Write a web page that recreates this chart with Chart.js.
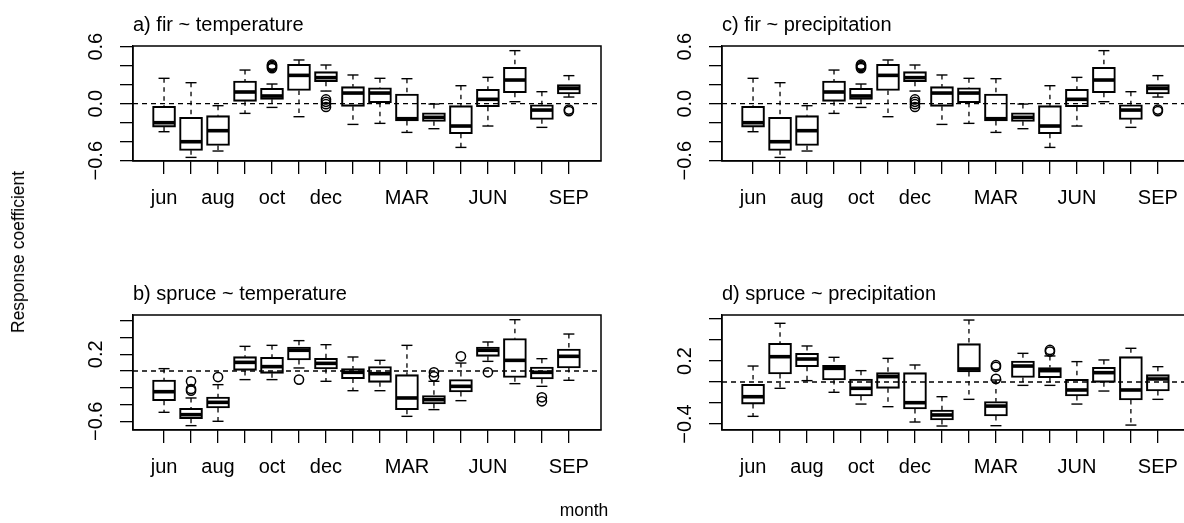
<!DOCTYPE html>
<html>
<head>
<meta charset="utf-8">
<script src="https://cdn.jsdelivr.net/npm/chart.js@4/dist/chart.umd.min.js"></script>
<style>
html,body{margin:0;padding:0;background:#fff;}
body{width:1184px;height:523px;overflow:hidden;position:relative;font-family:"Liberation Sans",Arial,Helvetica,sans-serif;color:#000;}
.panel{position:absolute;width:630px;height:240px;}
.panel canvas{position:absolute;left:0;top:0;}
.title{position:absolute;font-size:20px;line-height:24px;white-space:nowrap;}
.outer{position:absolute;font-size:17.5px;line-height:20px;white-space:nowrap;transform:translate(-50%,-50%);}
</style>
</head>
<body>
<div class="panel" style="left:0;top:0"><canvas id="pa" width="630" height="240"></canvas></div>
<div class="panel" style="left:0;top:269px"><canvas id="pb" width="630" height="240"></canvas></div>
<div class="panel" style="left:589px;top:0"><canvas id="pc" width="630" height="240"></canvas></div>
<div class="panel" style="left:589px;top:269px"><canvas id="pd" width="630" height="240"></canvas></div>
<div class="title" style="left:133px;top:12px">a) fir ~ temperature</div>
<div class="title" style="left:133px;top:281px">b) spruce ~ temperature</div>
<div class="title" style="left:722px;top:12px">c) fir ~ precipitation</div>
<div class="title" style="left:722px;top:281px">d) spruce ~ precipitation</div>
<div class="outer" style="left:18px;top:252px;transform:translate(-50%,-50%) rotate(-90deg)">Response coefficient</div>
<div class="outer" style="left:584px;top:510px">month</div>
<script>
// ---- categories ----
const months = ['jun','jul','aug','sep','oct','nov','dec','JAN','FEB','MAR','APR','MAY','JUN','JUL','AUG','SEP'];
const labelledMonths = ['jun','aug','oct','dec','MAR','JUN','SEP'];

// ---- a) fir ~ temperature ----
const firTempLo  = [-0.295,-0.565,-0.498,-0.102,-0.039,-0.137, 0.133,-0.218,-0.207,-0.302,-0.263,-0.460,-0.235, 0.021,-0.249, 0.070];
const firTempQ1  = [-0.246,-0.491,-0.439, 0.025, 0.046, 0.140, 0.232,-0.028, 0.011,-0.182,-0.186,-0.316,-0.032, 0.116,-0.165, 0.102];
const firTempMed = [-0.200,-0.400,-0.284, 0.123, 0.081, 0.298, 0.274, 0.112, 0.112,-0.158,-0.144,-0.235, 0.046, 0.249,-0.067, 0.161];
const firTempQ3  = [-0.028,-0.144,-0.126, 0.239, 0.161, 0.414, 0.337, 0.179, 0.168, 0.102,-0.095,-0.021, 0.151, 0.382,-0.011, 0.200];
const firTempHi  = [ 0.267, 0.221,-0.021, 0.354, 0.207, 0.460, 0.407, 0.302, 0.267, 0.263,-0.004, 0.189, 0.277, 0.558, 0.126, 0.295];
const firTempOutMonth = [5,5,5,5,7,7,7,7,16,16];
const firTempOutValue = [0.410,0.398,0.386,0.374,0.045,0.020,-0.005,-0.035,-0.062,-0.078];

// ---- c) fir ~ precipitation (same values as shown in the figure) ----
const firPrecLo  = [-0.295,-0.565,-0.498,-0.102,-0.039,-0.137, 0.133,-0.218,-0.207,-0.302,-0.263,-0.460,-0.235, 0.021,-0.249, 0.070];
const firPrecQ1  = [-0.246,-0.491,-0.439, 0.025, 0.046, 0.140, 0.232,-0.028, 0.011,-0.182,-0.186,-0.316,-0.032, 0.116,-0.165, 0.102];
const firPrecMed = [-0.200,-0.400,-0.284, 0.123, 0.081, 0.298, 0.274, 0.112, 0.112,-0.158,-0.144,-0.235, 0.046, 0.249,-0.067, 0.161];
const firPrecQ3  = [-0.028,-0.144,-0.126, 0.239, 0.161, 0.414, 0.337, 0.179, 0.168, 0.102,-0.095,-0.021, 0.151, 0.382,-0.011, 0.200];
const firPrecHi  = [ 0.267, 0.221,-0.021, 0.354, 0.207, 0.460, 0.407, 0.302, 0.267, 0.263,-0.004, 0.189, 0.277, 0.558, 0.126, 0.295];
const firPrecOutMonth = [5,5,5,5,7,7,7,7,16,16];
const firPrecOutValue = [0.410,0.398,0.386,0.374,0.045,0.020,-0.005,-0.035,-0.062,-0.078];

// ---- b) spruce ~ temperature ----
const spruceTempLo  = [-0.493,-0.652,-0.600,-0.103,-0.103, 0.036,-0.123,-0.235,-0.235,-0.541,-0.461,-0.354, 0.115,-0.151,-0.183,-0.111];
const spruceTempQ1  = [-0.354,-0.569,-0.441, 0.000,-0.028, 0.131, 0.024,-0.091,-0.135,-0.461,-0.394,-0.250, 0.175,-0.076,-0.095, 0.036];
const spruceTempMed = [-0.247,-0.521,-0.374, 0.103, 0.052, 0.247, 0.091,-0.016,-0.032,-0.322,-0.342,-0.183, 0.247, 0.127,-0.016, 0.175];
const spruceTempQ3  = [-0.107,-0.445,-0.310, 0.171, 0.163, 0.286, 0.151, 0.028, 0.052,-0.044,-0.294,-0.103, 0.286, 0.386, 0.048, 0.262];
const spruceTempHi  = [ 0.028,-0.322,-0.163, 0.294, 0.306, 0.362, 0.314, 0.167, 0.127, 0.306,-0.123, 0.095, 0.346, 0.612, 0.147, 0.441];
const spruceTempOutMonth = [2,2,2,3,6,11,11,12,13,15,15];
const spruceTempOutValue = [-0.123,-0.215,-0.235,-0.072,-0.103,-0.016,-0.064,0.175,-0.016,-0.314,-0.362];

// ---- d) spruce ~ precipitation ----
const sprucePrecLo  = [-0.327,-0.060, 0.013,-0.098,-0.210,-0.235,-0.381,-0.419,-0.165,-0.416,-0.032,-0.032,-0.210,-0.086,-0.410,-0.165];
const sprucePrecQ1  = [-0.210, 0.076, 0.146, 0.019,-0.133,-0.060,-0.257,-0.362, 0.095,-0.324, 0.044, 0.041,-0.133,-0.003,-0.171,-0.086];
const sprucePrecMed = [-0.140, 0.241, 0.219, 0.130,-0.060, 0.051,-0.197,-0.314, 0.124,-0.229, 0.152, 0.108,-0.076, 0.089,-0.076, 0.029];
const sprucePrecQ3  = [-0.022, 0.368, 0.273, 0.159, 0.029, 0.089, 0.089,-0.267, 0.365,-0.187, 0.200, 0.137, 0.025, 0.140, 0.241, 0.070];
const sprucePrecHi  = [ 0.152, 0.559, 0.343, 0.235, 0.108, 0.225, 0.162,-0.140, 0.590, 0.019, 0.273, 0.248, 0.194, 0.210, 0.321, 0.146];
const sprucePrecOutMonth = [10,10,10,12,12];
const sprucePrecOutValue = [0.160,0.145,0.030,0.305,0.290];

// ---- y tick values / labels ----
const firTicks = [-0.6,-0.4,-0.2,0,0.2,0.4,0.6];
const firTickLabels = ['0.6','0.0','-0.6'];
const spruceTempTicks = [-0.6,-0.4,-0.2,0,0.2,0.4,0.6];
const spruceTempTickLabels = ['0.2','-0.6'];
const sprucePrecTicks = [-0.4,-0.2,0,0.2,0.4,0.6];
const sprucePrecTickLabels = ['0.2','-0.4'];

const FONT = '"Liberation Sans", Arial, Helvetica, sans-serif';
Chart.defaults.font.family = FONT;
Chart.defaults.color = '#000';

const framePlugin = {
  id: 'frame',
  afterDatasetsDraw(chart) {
    const {ctx, chartArea: a} = chart;
    ctx.save();
    ctx.strokeStyle = '#000';
    ctx.lineWidth = 1.5;
    ctx.strokeRect(a.left, a.top, a.right - a.left, a.bottom - a.top);
    ctx.restore();
  }
};

function makePanel(id, lo, q1, med, q3, hi, outM, outV, yMin, yMax, yTicks, yLabels) {
  const boxes = months.map((m, i) => ({x: i + 1, y: [q1[i], q3[i]]}));
  const medians = months.map((m, i) => ({x: i + 1, y: med[i]}));
  const caps = [];
  const whiskers = [];
  months.forEach((m, i) => {
    caps.push({x: i + 1, y: lo[i]}, {x: i + 1, y: hi[i]});
    whiskers.push({x: i + 1, y: hi[i]}, {x: i + 1, y: q3[i]}, {x: i + 1, y: null},
                  {x: i + 1, y: q1[i]}, {x: i + 1, y: lo[i]}, {x: i + 1, y: null});
  });
  const outliers = outM.map((m, k) => ({x: m, y: outV[k]}));
  const xMin = -0.15, xMax = 17.19;

  new Chart(document.getElementById(id), {
    type: 'bar',
    data: {
      datasets: [
        {type: 'scatter', data: whiskers, showLine: true, spanGaps: false, borderColor: '#000',
         borderWidth: 1.3, borderDash: [4.5, 4.5], pointRadius: 0, pointHoverRadius: 0, order: 6},
        {type: 'scatter', data: caps, pointStyle: 'line', pointRadius: 5.5, pointHoverRadius: 5.5,
         pointBorderWidth: 1.4, pointBorderColor: '#000', borderColor: '#000', order: 5},
        {type: 'bar', data: boxes, backgroundColor: 'rgba(0,0,0,0)', borderColor: '#000',
         borderWidth: 1.4, borderSkipped: false, barThickness: 23, order: 4},
        {type: 'scatter', data: [{x: xMin - 1, y: 0}, {x: xMax + 1, y: 0}], showLine: true,
         borderColor: '#000', borderWidth: 1.3, borderDash: [5, 4], pointRadius: 0, pointHoverRadius: 0, order: 3},
        {type: 'scatter', data: medians, pointStyle: 'line', pointRadius: 11, pointHoverRadius: 11,
         pointBorderWidth: 3.6, pointBorderColor: '#000', borderColor: '#000', order: 2},
        {type: 'scatter', data: outliers, pointStyle: 'circle', pointRadius: 4.6, pointHoverRadius: 4.6,
         pointBorderWidth: 1.5, pointBorderColor: '#000', pointBackgroundColor: 'rgba(0,0,0,0)', order: 1}
      ]
    },
    options: {
      responsive: false,
      animation: false,
      events: [],
      devicePixelRatio: 1,
      layout: {padding: {top: 46, right: 29, bottom: 0, left: 0}},
      plugins: {legend: {display: false}, tooltip: {enabled: false}, title: {display: false}},
      scales: {
        x: {
          type: 'linear', min: xMin, max: xMax, offset: false,
          afterBuildTicks: s => { s.ticks = months.map((m, i) => ({value: i + 1})); },
          afterFit: s => { s.height = 79; },
          ticks: {
            autoSkip: false, maxRotation: 0, minRotation: 0, padding: 12, color: '#000',
            font: {family: FONT, size: 20},
            callback: v => { const m = months[Math.round(v) - 1]; return labelledMonths.includes(m) ? m : ''; }
          },
          grid: {drawOnChartArea: false, tickLength: 13, color: '#000', lineWidth: 1.3, offset: false},
          border: {display: true, color: '#000', width: 1.3}
        },
        y: {
          type: 'linear', min: yMin, max: yMax,
          afterBuildTicks: s => { s.ticks = yTicks.map(v => ({value: v})); },
          afterFit: s => { s.width = 133; },
          ticks: {
            autoSkip: false, minRotation: 90, maxRotation: 90, crossAlign: 'center', padding: 4, color: '#000',
            font: {family: FONT, size: 20},
            callback: v => { const k = v.toFixed(1); return yLabels.includes(k) ? k.replace('-', '\u2212') : ''; }
          },
          grid: {drawOnChartArea: false, tickLength: 13, color: '#000', lineWidth: 1.3},
          border: {display: true, color: '#000', width: 1.3}
        }
      }
    },
    plugins: [framePlugin]
  });
}

makePanel('pa', firTempLo, firTempQ1, firTempMed, firTempQ3, firTempHi, firTempOutMonth, firTempOutValue,
          -0.603, 0.607, firTicks, firTickLabels);
makePanel('pc', firPrecLo, firPrecQ1, firPrecMed, firPrecQ3, firPrecHi, firPrecOutMonth, firPrecOutValue,
          -0.603, 0.607, firTicks, firTickLabels);
makePanel('pb', spruceTempLo, spruceTempQ1, spruceTempMed, spruceTempQ3, spruceTempHi, spruceTempOutMonth, spruceTempOutValue,
          -0.704, 0.668, spruceTempTicks, spruceTempTickLabels);
makePanel('pd', sprucePrecLo, sprucePrecQ1, sprucePrecMed, sprucePrecQ3, sprucePrecHi, sprucePrecOutMonth, sprucePrecOutValue,
          -0.457, 0.638, sprucePrecTicks, sprucePrecTickLabels);
</script>
</body>
</html>
